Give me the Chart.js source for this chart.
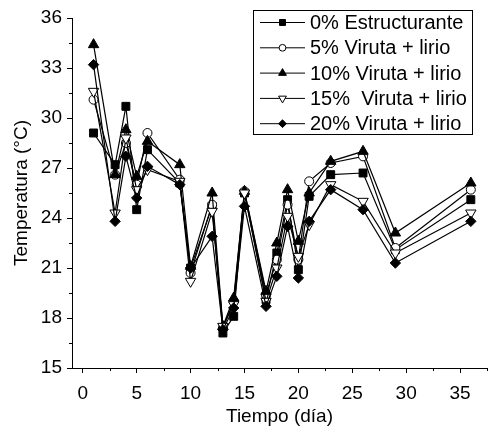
<!DOCTYPE html>
<html><head><meta charset="utf-8">
<script src="https://cdn.jsdelivr.net/npm/chart.js@4"></script>
<style>html,body{margin:0;padding:0;background:#fff}</style>
</head><body>
<canvas id="c" width="496" height="432"></canvas>
<script>
const days = [1, 3, 4, 5, 6, 9, 10, 12, 13, 14, 15, 17, 18, 19, 20, 21, 23, 26, 29, 36];
const est0  = [29.1, 27.2, 30.7, 24.5, 28.1, 26.1, 21.0, 24.7, 17.1, 18.1, 25.5, 19.1, 21.9, 25.1, 20.9, 25.3, 26.6, 26.7, 22.1, 25.1];
const vir5  = [31.1, 26.6, 28.5, 26.0, 29.1, 26.3, 20.7, 24.8, 17.4, 19.0, 25.6, 19.4, 21.5, 24.8, 21.5, 26.2, 27.3, 27.7, 22.2, 25.7];
const vir10 = [34.4, 26.6, 29.3, 26.5, 28.6, 27.2, 21.1, 25.5, 17.5, 19.2, 25.6, 19.6, 22.5, 25.7, 22.6, 25.5, 27.4, 28.0, 23.1, 26.1];
const vir15 = [31.6, 24.3, 28.8, 25.7, 26.9, 26.2, 20.2, 24.4, 17.5, 18.8, 25.5, 19.0, 21.0, 24.1, 21.7, 23.6, 26.0, 25.0, 21.9, 24.3];
const vir20 = [33.2, 23.8, 27.7, 25.2, 27.1, 26.0, 21.0, 22.9, 17.3, 18.6, 24.7, 18.7, 20.5, 23.5, 20.4, 23.8, 25.7, 24.5, 21.3, 23.8];
const seriesNames = ['0% Estructurante', '5% Viruta + lirio', '10% Viruta + lirio', '15%  Viruta + lirio', '20% Viruta + lirio'];
const xTicks = [0, 2.5, 5, 7.5, 10, 12.5, 15, 17.5, 20, 22.5, 25, 27.5, 30, 32.5, 35, 37.5];
const yTickStep = 1.5;
const xTitle = 'Tiempo (día)';
const yTitle = 'Temperatura (°C)';

const FONT = "'Liberation Sans', Arial, sans-serif";
const styles = [
  {pointStyle: 'rect', radius: 5.6, rotation: 0, bg: '#000'},
  {pointStyle: 'circle', radius: 4.5, rotation: 0, bg: '#fff'},
  {pointStyle: 'triangle', radius: 6, rotation: 0, bg: '#000'},
  {pointStyle: 'triangle', radius: 6, rotation: 180, bg: '#fff'},
  {pointStyle: 'rectRot', radius: 5.2, rotation: 0, bg: '#000'}
];
const values = [est0, vir5, vir10, vir15, vir20];

const datasets = values.map((vals, i) => ({
  label: seriesNames[i],
  data: days.map((d, j) => ({x: d, y: vals[j]})),
  borderColor: '#000',
  borderWidth: 1.2,
  pointStyle: styles[i].pointStyle,
  pointRadius: styles[i].radius,
  pointRotation: styles[i].rotation,
  pointBackgroundColor: styles[i].bg,
  pointBorderColor: '#000',
  pointBorderWidth: 1,
  pointHoverRadius: styles[i].radius,
  tension: 0,
  fill: false,
  order: 5 - i,
  clip: false
}));

const isMajorX = v => Math.abs(v % 5) < 1e-6;
const isMajorY = v => Math.abs(v % 3) < 1e-6;

const minorTicks = {
  id: 'minorTicks',
  afterDraw(chart) {
    const ctx = chart.ctx, a = chart.chartArea;
    const xs = chart.scales.x, ys = chart.scales.y;
    ctx.save();
    ctx.strokeStyle = '#000';
    ctx.lineWidth = 1;
    ctx.beginPath();
    xs.ticks.forEach(t => {
      if (!isMajorX(t.value)) {
        const px = Math.round(xs.getPixelForValue(t.value)) + 0.5;
        ctx.moveTo(px, a.bottom); ctx.lineTo(px, a.bottom + 3);
      }
    });
    ys.ticks.forEach(t => {
      if (!isMajorY(t.value)) {
        const py = Math.round(ys.getPixelForValue(t.value)) + 0.5;
        ctx.moveTo(a.left - 3, py); ctx.lineTo(a.left, py);
      }
    });
    ctx.stroke();
    ctx.restore();
  }
};

const boxLegend = {
  id: 'boxLegend',
  afterDraw(chart) {
    const ctx = chart.ctx;
    ctx.save();
    ctx.strokeStyle = '#000';
    ctx.lineWidth = 1;
    ctx.strokeRect(253.5, 10.5, 219, 124);
    ctx.font = '20px ' + FONT;
    ctx.textBaseline = 'middle';
    ctx.textAlign = 'left';
    chart.data.datasets.forEach((ds, i) => {
      const y = 22.5 + i * 25.3;
      ctx.lineWidth = 1;
      ctx.beginPath();
      ctx.moveTo(260, y); ctx.lineTo(305, y);
      ctx.stroke();
      ctx.fillStyle = styles[i].bg;
      ctx.strokeStyle = '#000';
      Chart.helpers.drawPoint(ctx, {
        pointStyle: styles[i].pointStyle,
        radius: styles[i].radius * 0.75,
        rotation: styles[i].rotation,
        borderWidth: 1
      }, 282.5, y);
      ctx.fillStyle = '#000';
      ctx.fillText(ds.label, 310, y + 1);
    });
    ctx.restore();
  }
};

new Chart(document.getElementById('c'), {
  type: 'line',
  data: {datasets},
  options: {
    responsive: false,
    devicePixelRatio: 1,
    animation: false,
    events: [],
    layout: {padding: {top: 18, right: 1, left: 0, bottom: 0}},
    plugins: {legend: {display: false}, tooltip: {enabled: false}},
    scales: {
      x: {
        type: 'linear',
        position: 'bottom',
        min: -1,
        max: 37.5,
        afterBuildTicks: axis => { axis.ticks = xTicks.map(v => ({value: v})); },
        afterFit: s => { s.height = 64; },
        border: {color: '#000', width: 1},
        grid: {
          drawOnChartArea: false,
          drawTicks: true,
          tickLength: 5,
          tickWidth: 1,
          tickColor: c => (c.tick && isMajorX(c.tick.value)) ? '#000' : 'rgba(0,0,0,0)'
        },
        ticks: {
          autoSkip: false,
          maxRotation: 0,
          padding: 9,
          color: '#000',
          font: {size: 19, family: FONT},
          callback: v => isMajorX(v) ? String(v) : ''
        },
        title: {display: true, text: xTitle, color: '#000', font: {size: 19, family: FONT}, padding: {top: 2, bottom: 4}}
      },
      y: {
        type: 'linear',
        min: 15,
        max: 36,
        afterFit: s => { s.width = 72; },
        border: {color: '#000', width: 1},
        grid: {
          drawOnChartArea: false,
          drawTicks: true,
          tickLength: 5,
          tickWidth: 1,
          tickColor: c => (c.tick && isMajorY(c.tick.value)) ? '#000' : 'rgba(0,0,0,0)'
        },
        ticks: {
          stepSize: yTickStep,
          autoSkip: false,
          padding: 5,
          color: '#000',
          font: {size: 19, family: FONT},
          callback: v => isMajorY(v) ? String(v) : ''
        },
        title: {display: true, text: yTitle, color: '#000', font: {size: 19, family: FONT}, padding: {top: 10, bottom: 2}}
      }
    }
  },
  plugins: [minorTicks, boxLegend]
});
</script>
</body></html>
